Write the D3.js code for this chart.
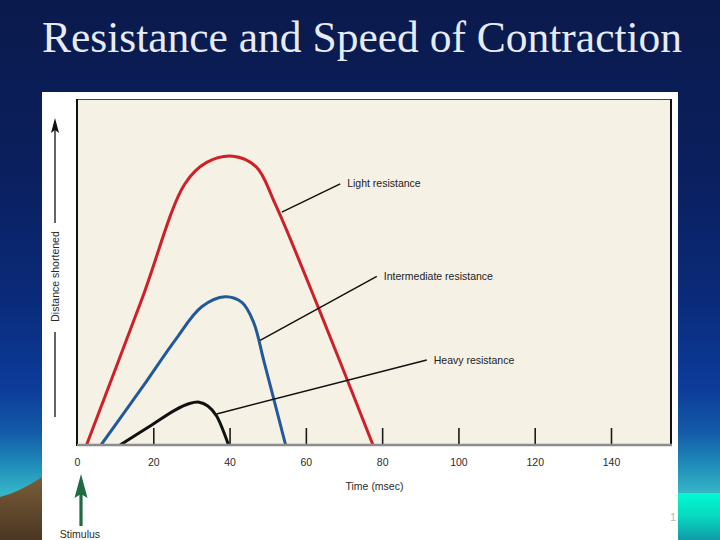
<!DOCTYPE html>
<html>
<head>
<meta charset="utf-8">
<script src="https://cdn.jsdelivr.net/npm/d3@7"></script>
<style>
  html, body { margin: 0; padding: 0; background: #0a1a4c; }
  svg { display: block; }
</style>
</head>
<body>
<svg id="chart" width="720" height="540"></svg>
<script>
// ---------- data ----------
const titleText = "Resistance and Speed of Contraction";
const timeTicks = [0, 20, 40, 60, 80, 100, 120, 140];
const xLabel = "Time (msec)";
const yLabel = "Distance shortened";
const stimulusLabel = "Stimulus";
const seriesNames = ["Light resistance", "Intermediate resistance", "Heavy resistance"];
const seriesColors = ["#cf2027", "#22599b", "#111111"];

// time (msec) and distance (arbitrary units 0-100)
const lightTime = [2.5, 17.0, 28.3, 34.0, 40.9, 47.0, 51.9, 63.7, 77.6];
const lightDist = [0, 42.2, 75.6, 81.8, 83.6, 80.5, 69.9, 38.6, 0];
const interTime = [6.3, 17.0, 25.7, 32.7, 38.8, 43.3, 46.3, 49.0, 54.7];
const interDist = [0, 16.5, 30.3, 40.0, 42.9, 41.2, 35.5, 24.3, 0];
const heavyTime = [11.3, 19.6, 25.7, 29.5, 32.0, 34.3, 36.6, 39.7];
const heavyDist = [0, 5.8, 10.1, 12.0, 12.4, 11.3, 8.4, 0];

// leader lines: start on curve (time, dist) -> end near label (time, dist)
const leaderFromTime = [53.7, 48.0, 36.6];
const leaderFromDist = [67.4, 30.3, 9.0];
const leaderToTime = [69.0, 78.6, 91.7];
const leaderToDist = [75.6, 48.8, 24.6];

// ---------- layout ----------
const svg = d3.select("#chart");
const W = 720, H = 540;
const plot = { left: 77, right: 671, top: 99.5, bottom: 445 };

const defs = svg.append("defs");
const bg = defs.append("linearGradient").attr("id", "bg").attr("x1", 0).attr("y1", 0).attr("x2", 0).attr("y2", 1);
[[0, "#0b1a4d"], [0.3, "#0a1f5c"], [0.55, "#0a2a7a"], [0.72, "#0c3c9a"], [0.8, "#135aa8"], [0.86, "#1f8cba"], [0.91, "#34b4c6"], [1, "#3cc0c8"]]
  .forEach(([o, c]) => bg.append("stop").attr("offset", o).attr("stop-color", c));
const aqua = defs.append("linearGradient").attr("id", "aqua").attr("x1", 0).attr("y1", 0).attr("x2", 0).attr("y2", 1);
[[0, "#00fbd2"], [0.5, "#08d8c0"], [1, "#0f9aa6"]]
  .forEach(([o, c]) => aqua.append("stop").attr("offset", o).attr("stop-color", c));
const hill = defs.append("linearGradient").attr("id", "hill").attr("x1", 0).attr("y1", 0).attr("x2", 0).attr("y2", 1);
[[0, "#7a5d38"], [1, "#4a3622"]]
  .forEach(([o, c]) => hill.append("stop").attr("offset", o).attr("stop-color", c));

svg.append("rect").attr("width", W).attr("height", H).attr("fill", "url(#bg)");
svg.append("rect").attr("x", 678).attr("y", 493).attr("width", 42).attr("height", 47).attr("fill", "url(#aqua)");
svg.append("path").attr("d", "M0,497 Q20,492 42,477 L42,540 L0,540 Z").attr("fill", "url(#hill)");

// title
svg.append("text")
  .attr("x", 362).attr("y", 52)
  .attr("text-anchor", "middle")
  .attr("font-family", "'Liberation Serif', 'Times New Roman', serif")
  .attr("font-size", 43.5)
  .attr("fill", "#e6ebf6")
  .text(titleText);

// white picture box
svg.append("rect").attr("x", 42).attr("y", 92).attr("width", 636).attr("height", 448).attr("fill", "#ffffff");
// cream plot
svg.append("rect").attr("x", plot.left).attr("y", plot.top)
  .attr("width", plot.right - plot.left).attr("height", plot.bottom - plot.top)
  .attr("fill", "#f6f1e5");

// scales
const x = d3.scaleLinear().domain([0, 140]).range([plot.left, 611]);
const y = d3.scaleLinear().domain([0, 100]).range([plot.bottom, plot.top]);

const font = "'Liberation Sans', Arial, Helvetica, sans-serif";

// x axis (ticks pointing up inside plot)
const xAxis = d3.axisBottom(x).tickValues(timeTicks).tickSize(-17).tickPadding(14).tickFormat(d3.format("d"));
const gx = svg.append("g").attr("transform", `translate(0,${plot.bottom})`).call(xAxis);
gx.select(".domain").remove();
gx.selectAll(".tick line").attr("stroke", "#1a1a1a").attr("stroke-width", 1.6)
  .filter(d => d === 0).remove();
gx.selectAll(".tick text").attr("font-family", font).attr("font-size", 10.5).attr("fill", "#2a2a2a");

// curves
const seriesTimes = [lightTime, interTime, heavyTime];
const seriesDists = [lightDist, interDist, heavyDist];
const line = d3.line().x(d => x(d[0])).y(d => y(d[1])).curve(d3.curveCatmullRom.alpha(0.5));
const clip = defs.append("clipPath").attr("id", "plotclip");
clip.append("rect").attr("x", plot.left).attr("y", plot.top).attr("width", plot.right - plot.left).attr("height", plot.bottom - plot.top);
seriesNames.forEach((name, i) => {
  const pts = seriesTimes[i].map((t, j) => [t, seriesDists[i][j]]);
  svg.append("path")
    .attr("d", line(pts))
    .attr("fill", "none")
    .attr("stroke", seriesColors[i])
    .attr("stroke-width", 3)
    .attr("stroke-linejoin", "round")
    .attr("clip-path", "url(#plotclip)");
});

// leader lines and labels
seriesNames.forEach((name, i) => {
  svg.append("line")
    .attr("x1", x(leaderFromTime[i])).attr("y1", y(leaderFromDist[i]))
    .attr("x2", x(leaderToTime[i])).attr("y2", y(leaderToDist[i]))
    .attr("stroke", "#111").attr("stroke-width", 1.5);
  svg.append("text")
    .attr("x", x(leaderToTime[i]) + 7).attr("y", y(leaderToDist[i]))
    .attr("dy", "0.35em")
    .attr("font-family", font).attr("font-size", 10.5).attr("fill", "#222")
    .text(name);
});

// plot frame
svg.append("line").attr("x1", plot.left).attr("x2", plot.right).attr("y1", plot.top).attr("y2", plot.top)
  .attr("stroke", "#444").attr("stroke-width", 1);
svg.append("line").attr("x1", plot.right).attr("x2", plot.right).attr("y1", plot.top - 0.5).attr("y2", plot.bottom + 1)
  .attr("stroke", "#111").attr("stroke-width", 2);
svg.append("line").attr("x1", plot.left).attr("x2", plot.left).attr("y1", plot.top - 0.5).attr("y2", plot.bottom + 1)
  .attr("stroke", "#111").attr("stroke-width", 2);
svg.append("line").attr("x1", plot.left).attr("x2", plot.right + 1).attr("y1", plot.bottom).attr("y2", plot.bottom)
  .attr("stroke", "#8c8c8c").attr("stroke-width", 2.5);

// x axis title
svg.append("text").attr("x", 374.5).attr("y", 490).attr("text-anchor", "middle")
  .attr("font-family", font).attr("font-size", 10.5).attr("fill", "#2a2a2a").text(xLabel);

// y axis title with arrow
const yl = 55, yc = 276.5;
svg.append("text").attr("transform", `translate(${yl + 3.5},${yc}) rotate(-90)`)
  .attr("text-anchor", "middle")
  .attr("font-family", font).attr("font-size", 10.5).attr("fill", "#2a2a2a").text(yLabel);
svg.append("line").attr("x1", yl).attr("x2", yl).attr("y1", 223).attr("y2", 130).attr("stroke", "#111").attr("stroke-width", 1.3);
svg.append("line").attr("x1", yl).attr("x2", yl).attr("y1", 332).attr("y2", 417).attr("stroke", "#111").attr("stroke-width", 1.3);
svg.append("path").attr("d", `M${yl},118 L${yl - 4},133 L${yl},130 L${yl + 4},133 Z`).attr("fill", "#111");

// stimulus arrow
const sx = x(0) + 4;
svg.append("line").attr("x1", sx).attr("x2", sx).attr("y1", 492).attr("y2", 526).attr("stroke", "#1d6b3e").attr("stroke-width", 3.2);
svg.append("path").attr("d", `M${sx},474 L${sx - 6.5},498 L${sx},494 L${sx + 6.5},498 Z`).attr("fill", "#1d6b3e");
svg.append("text").attr("x", sx - 1).attr("y", 538).attr("text-anchor", "middle")
  .attr("font-family", font).attr("font-size", 10.5).attr("fill", "#2a2a2a").text(stimulusLabel);

// slide number
svg.append("text").attr("x", 673).attr("y", 521).attr("text-anchor", "middle")
  .attr("font-family", font).attr("font-size", 11).attr("fill", "#b8b8b8").text("1");
</script>
</body>
</html>
